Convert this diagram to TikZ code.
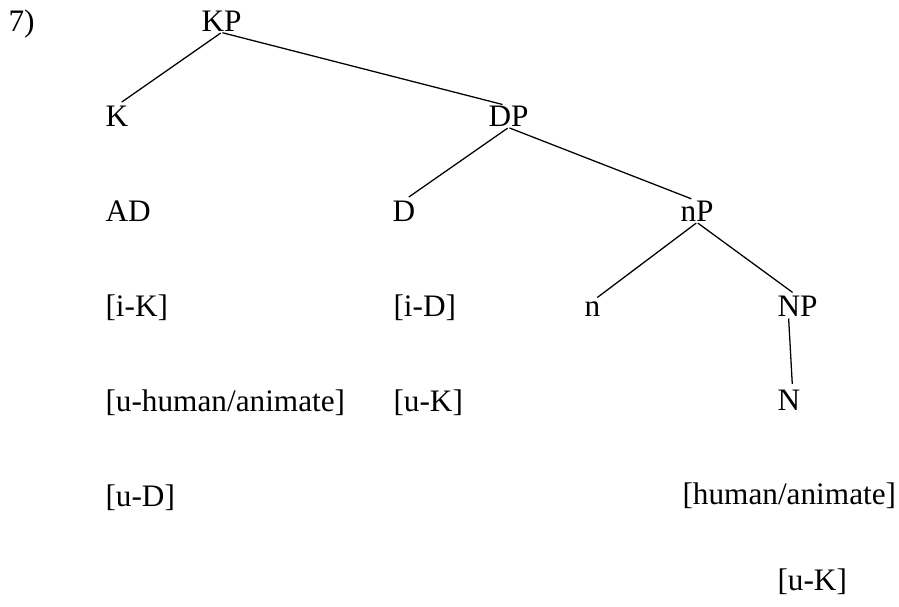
\documentclass[tikz,border=0pt]{standalone}
\usepackage{fontspec}
\setmainfont{Liberation Serif}

\begin{document}
\begin{tikzpicture}[x=0.3934pt,y=-0.3934pt,every node/.style={inner sep=0pt,anchor=base west,font=\fontsize{12.3}{14}\selectfont},edge/.style={line width=0.5pt,shorten >=2.4pt,shorten <=0.4pt}]
\useasboundingbox (0,0) rectangle (899,607);
\node(num) at (8,32) {7)};
\node(kp) at (201,32) {KP};
\node(k) at (105,126.5) {K};
\node(dp) at (488,127) {DP};
\node(ad) at (105,222) {AD};
\node(d) at (392,221.5) {D};
\node(np) at (680,222) {nP};
\node(ik) at (105,317) {[i-K]};
\node(id) at (393,317) {[i-D]};
\node(n) at (584,316.5) {n};
\node(bignp) at (777,317) {NP};
\node(uhum) at (105,412) {[u-human/animate]};
\node(uk) at (393,412) {[u-K]};
\node(bign) at (777,411) {N};
\node(ud) at (105,507) {[u-D]};
\node(hum) at (682,505) {[human/animate]};
\node(ukn) at (777,591) {[u-K]};
% branches
\draw[edge] (kp.south) -- (k.north);
\draw[edge] (kp.south) -- (dp.north);
\draw[edge] (dp.south) -- (d.north);
\draw[edge] (dp.south) -- (np.north);
\draw[edge] (np.south) -- (n.north);
\draw[edge] (np.south) -- (bignp.north);
\draw[edge] ([xshift=-3.5pt]bignp.south) -- ([xshift=1.5pt]bign.north);
\end{tikzpicture}
\end{document}
